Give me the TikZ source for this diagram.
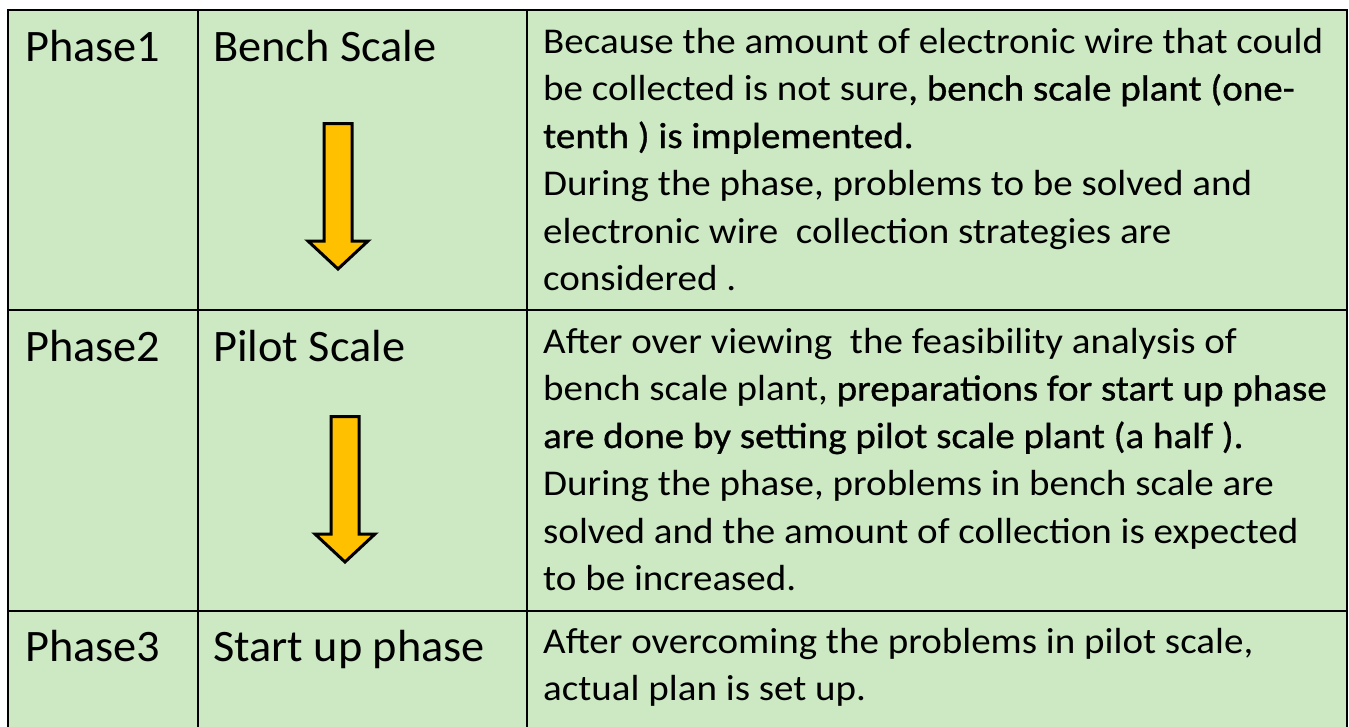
\documentclass[tikz,border=0pt]{standalone}
\usepackage{fontspec}
\setmainfont{Carlito}
\newfontfamily\headfont[FakeStretch=1.03]{Carlito}
\newfontfamily\bodyfont[FakeStretch=1.075]{Carlito}
\newfontfamily\emfont[FakeStretch=1.075,FakeBold=0.8]{Carlito}
\newcommand\strongpart[1]{{\emfont #1}}
\definecolor{cellgreen}{RGB}{204,233,196}
\definecolor{arroworange}{RGB}{255,192,0}
\begin{document}
\begin{tikzpicture}[x=1pt,y=-1pt,
  gridline/.style={line width=2.6pt, draw=black},
  bigtext/.style={anchor=base west, inner sep=0pt, font=\headfont\fontsize{45}{54}\selectfont},
  bodytext/.style={anchor=base west, inner sep=0pt, font=\bodyfont\fontsize{36.3}{47.5}\selectfont},
  downarrow/.style={fill=arroworange, draw=black, line width=3pt, line join=miter, miter limit=10}]
\useasboundingbox (0,0) rectangle (1349,726);
\clip (0,0) rectangle (1349,726);
% table background and grid
\fill[cellgreen] (8,10) rectangle (1347,740);
\draw[gridline] (8,10) rectangle (1347,740);
\draw[gridline] (198,10) -- (198,740);
\draw[gridline] (527,10) -- (527,740);
\draw[gridline] (8,310) -- (1347,310);
\draw[gridline] (8,611) -- (1347,611);
% column 1
\node[bigtext] (p1) at (25,61) {Phase1};
\node[bigtext] (p2) at (25,361) {Phase2};
\node[bigtext] (p3) at (25,661) {Phase3};
% column 2
\node[bigtext] (s1) at (213,61) {Bench Scale};
\node[bigtext] (s2) at (213,361) {Pilot Scale};
\node[bigtext] (s3) at (213,661) {Start up phase};
% column 3
\node[bodytext] (d1) at (543,53) {\vtop{%
  \hbox{Because the amount of electronic wire that could}
  \hbox{be collected is not sure\strongpart{, bench scale plant (one-}}
  \hbox{\strongpart{tenth ) is implemented.}}
  \hbox{During the phase, problems to be solved and}
  \hbox{electronic wire~ collection strategies are}
  \hbox{considered .}}};
\node[bodytext] (d2) at (543,353) {\vtop{%
  \hbox{After over viewing~ the feasibility analysis of}
  \hbox{bench scale plant, \strongpart{preparations for start up phase}}
  \hbox{\strongpart{are done by setting pilot scale plant (a half ).}}
  \hbox{During the phase, problems in bench scale are}
  \hbox{solved and the amount of collection is expected}
  \hbox{to be increased.}}};
\node[bodytext] (d3) at (543,653) {\vtop{%
  \hbox{After overcoming the problems in pilot scale,}
  \hbox{actual plan is set up.}}};
% arrows
\draw[downarrow] (324,123.5) -- (352,123.5) -- (352,241) -- (368,241) -- (338,269) -- (308,241) -- (324,241) -- cycle;
\draw[downarrow] (331,416.5) -- (359,416.5) -- (359,534) -- (375,534) -- (345,562) -- (315,534) -- (331,534) -- cycle;
\end{tikzpicture}
\end{document}
